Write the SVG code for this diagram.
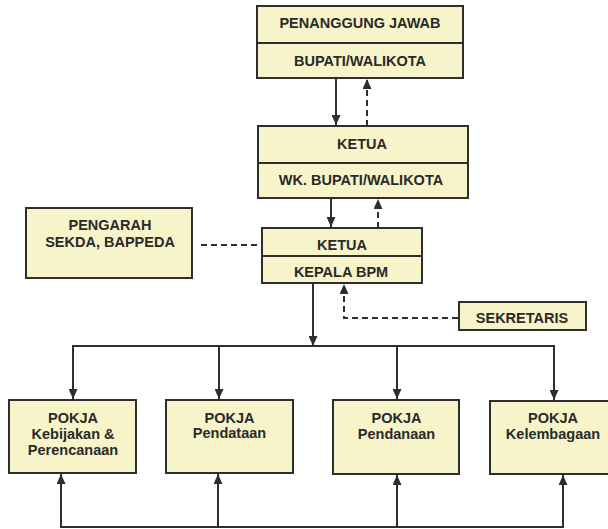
<svg xmlns="http://www.w3.org/2000/svg" width="608" height="529" viewBox="0 0 608 529">
<style>
.box{fill:#f7f4c9;stroke:#2e2e2e;stroke-width:2}
.div{stroke:#2e2e2e;stroke-width:2}
.t{font-family:"Liberation Sans",Arial,sans-serif;font-weight:bold;font-size:14.5px;fill:#2a2a2a;text-anchor:middle}
.ln{fill:none;stroke:#2e2e2e;stroke-width:2}
.dash{fill:none;stroke:#2e2e2e;stroke-width:2;stroke-dasharray:6 4}
</style>
<defs>
<marker id="arr" viewBox="0 0 10 9" refX="10" refY="4.5" markerWidth="10" markerHeight="9" markerUnits="userSpaceOnUse" orient="auto">
<path d="M0,0 L10,4.5 L0,9 Z" fill="#2e2e2e"/>
</marker>
</defs>
<rect width="608" height="529" fill="#ffffff"/>

<g id="connectors">
<line class="ln" x1="336" y1="78" x2="336" y2="125" marker-end="url(#arr)"/>
<line class="dash" x1="367" y1="126" x2="367" y2="79" marker-end="url(#arr)"/>
<line class="ln" x1="331" y1="198" x2="331" y2="227" marker-end="url(#arr)"/>
<line class="dash" x1="378" y1="228" x2="378" y2="199" marker-end="url(#arr)"/>
<line class="dash" x1="201" y1="245" x2="262" y2="245"/>
<line class="ln" x1="313" y1="283" x2="313" y2="346" marker-end="url(#arr)"/>
<polyline class="dash" points="458,318 344,318 344,284" marker-end="url(#arr)"/>
<line class="ln" x1="72" y1="346" x2="555" y2="346"/>
<line class="ln" x1="73" y1="346" x2="73" y2="399" marker-end="url(#arr)"/>
<line class="ln" x1="219" y1="346" x2="219" y2="399" marker-end="url(#arr)"/>
<line class="ln" x1="397" y1="346" x2="397" y2="399" marker-end="url(#arr)"/>
<line class="ln" x1="554" y1="346" x2="554" y2="400" marker-end="url(#arr)"/>
<line class="ln" x1="60" y1="527" x2="564" y2="527"/>
<line class="ln" x1="61" y1="527" x2="61" y2="474" marker-end="url(#arr)"/>
<line class="ln" x1="218" y1="527" x2="218" y2="474" marker-end="url(#arr)"/>
<line class="ln" x1="397" y1="527" x2="397" y2="475" marker-end="url(#arr)"/>
<line class="ln" x1="563" y1="527" x2="563" y2="475" marker-end="url(#arr)"/>
</g>

<g id="penanggung-jawab">
<rect class="box" x="257" y="6" width="206" height="72"/>
<line class="div" x1="257" y1="43" x2="463" y2="43"/>
<text class="t" x="360" y="28">PENANGGUNG JAWAB</text>
<text class="t" x="360" y="66">BUPATI/WALIKOTA</text>
</g>

<g id="ketua-wakil">
<rect class="box" x="258" y="126" width="210" height="72"/>
<line class="div" x1="258" y1="163" x2="468" y2="163"/>
<text class="t" x="362" y="149">KETUA</text>
<text class="t" x="361" y="185">WK. BUPATI/WALIKOTA</text>
</g>

<g id="ketua-bpm">
<rect class="box" x="262" y="228" width="160" height="55"/>
<line class="div" x1="262" y1="256" x2="422" y2="256"/>
<text class="t" x="342" y="250">KETUA</text>
<text class="t" x="341" y="277">KEPALA BPM</text>
</g>

<g id="pengarah">
<rect class="box" x="26" y="208" width="166" height="70"/>
<text class="t" x="110" y="230">PENGARAH</text>
<text class="t" x="110" y="247">SEKDA, BAPPEDA</text>
</g>

<g id="sekretaris">
<rect class="box" x="459" y="302" width="127" height="28"/>
<text class="t" x="522" y="323">SEKRETARIS</text>
</g>

<g id="pokja-kebijakan">
<rect class="box" x="9" y="400" width="127" height="73"/>
<text class="t" x="73" y="422.5">POKJA</text>
<text class="t" x="73" y="438.5">Kebijakan &amp;</text>
<text class="t" x="73" y="454.5">Perencanaan</text>
</g>

<g id="pokja-pendataan">
<rect class="box" x="166" y="400" width="127" height="73"/>
<text class="t" x="229.5" y="423">POKJA</text>
<text class="t" x="229.5" y="438">Pendataan</text>
</g>

<g id="pokja-pendanaan">
<rect class="box" x="333" y="400" width="126" height="74"/>
<text class="t" x="396.5" y="423">POKJA</text>
<text class="t" x="396.5" y="439">Pendanaan</text>
</g>

<g id="pokja-kelembagaan">
<rect class="box" x="490" y="401" width="128" height="73"/>
<text class="t" x="553" y="423">POKJA</text>
<text class="t" x="553" y="439">Kelembagaan</text>
</g>
</svg>
